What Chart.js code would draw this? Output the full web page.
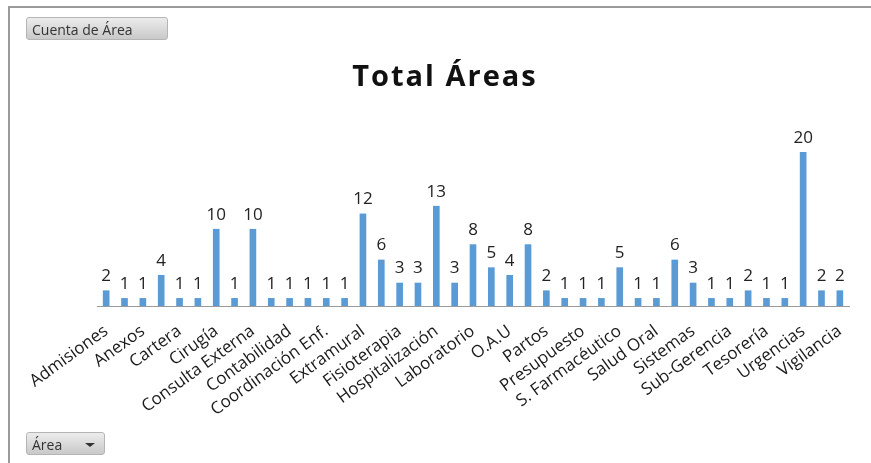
<!DOCTYPE html>
<html lang="es">
<head>
<meta charset="UTF-8">
<title>Total Áreas</title>
<script src="https://cdn.jsdelivr.net/npm/chart.js"></script>
<style>
  body {
    margin: 0;
    width: 871px;
    height: 463px;
    background: #ffffff;
    font-family: 'Open Sans', sans-serif;
    overflow: hidden;
    position: relative;
  }
  .frame {
    position: absolute;
    left: 8px;
    top: 6px;
    right: 0;
    bottom: 0;
    border-top: 2px solid #9a9a9a;
    border-left: 2px solid #9a9a9a;
  }
  .btn {
    position: absolute;
    height: 23px;
    line-height: 23px;
    padding-left: 5px;
    box-sizing: border-box;
    font-size: 14px;
    color: #333;
    background: linear-gradient(#ececec, #c9c9c9);
    border: 1px solid #b5b5b5;
    border-radius: 3px;
  }
  #campo { left: 26px; top: 17px; width: 142px; }
  #filtro { left: 26px; top: 432px; width: 79px; }
  #filtro .flecha {
    position: absolute;
    right: 9px;
    top: 10px;
    border-left: 5px solid transparent;
    border-right: 5px solid transparent;
    border-top: 4px solid #333;
  }
  #titulo {
    position: absolute;
    left: 345px;
    width: 200px;
    top: 55px;
    text-align: center;
    font-size: 29px;
    font-weight: bold;
    letter-spacing: 2px;
    color: #111;
  }
  #wrap {
    position: absolute;
    left: 10px;
    top: 8px;
    width: 861px;
    height: 455px;
  }
</style>
</head>
<body>
<div class="frame"></div>
<div id="wrap"><canvas id="areasChart"></canvas></div>
<div id="titulo">Total Áreas</div>
<div class="btn" id="campo">Cuenta de Área</div>
<div class="btn" id="filtro">Área<span class="flecha"></span></div>

<script>
  // áreas (solo se rotula una de cada dos)
  const areas = [
    'Admisiones', '', 'Anexos', '', 'Cartera', '', 'Cirugía', '',
    'Consulta Externa', '', 'Contabilidad', '', 'Coordinación Enf.', '',
    'Extramural', '', 'Fisioterapia', '', 'Hospitalización', '',
    'Laboratorio', '', 'O.A.U', '', 'Partos', '', 'Presupuesto', '',
    'S. Farmacéutico', '', 'Salud Oral', '', 'Sistemas', '',
    'Sub-Gerencia', '', 'Tesorería', '', 'Urgencias', '', 'Vigilancia'
  ];
  const cuenta = [
    2, 1, 1, 4, 1, 1, 10, 1, 10, 1, 1, 1, 1, 1, 12, 6, 3, 3, 13, 3, 8,
    5, 4, 8, 2, 1, 1, 1, 5, 1, 1, 6, 3, 1, 1, 2, 1, 1, 20, 2, 2
  ];
  const ejeMax = 25;

  // número encima de cada barra
  const etiquetas = {
    id: 'etiquetas',
    afterDatasetsDraw(chart) {
      const ctx = chart.ctx;
      const meta = chart.getDatasetMeta(0);
      ctx.save();
      ctx.font = '17px "Open Sans", sans-serif';
      ctx.fillStyle = '#222';
      ctx.textAlign = 'center';
      ctx.textBaseline = 'bottom';
      meta.data.forEach((bar, i) => {
        ctx.fillText(String(cuenta[i]), bar.x, bar.y - 6);
      });
      ctx.restore();
    }
  };

  new Chart(document.getElementById('areasChart'), {
    type: 'bar',
    data: {
      labels: areas,
      datasets: [{
        label: 'Total',
        data: cuenta,
        backgroundColor: '#5b9bd5',
        barThickness: 6
      }]
    },
    options: {
      responsive: true,
      maintainAspectRatio: false,
      animation: false,
      layout: { padding: { left: 87, right: 22, top: 106, bottom: 36 } },
      plugins: {
        legend: { display: false },
        tooltip: { enabled: false }
      },
      scales: {
        x: {
          grid: { display: false },
          border: { display: true, color: '#9a9a9a', width: 1 },
          ticks: {
            autoSkip: false,
            minRotation: 36,
            maxRotation: 36,
            color: '#1a1a1a',
            padding: 7,
            font: { family: 'Open Sans', size: 17 }
          }
        },
        y: {
          display: false,
          min: 0,
          max: ejeMax
        }
      }
    },
    plugins: [etiquetas]
  });
</script>
</body>
</html>
